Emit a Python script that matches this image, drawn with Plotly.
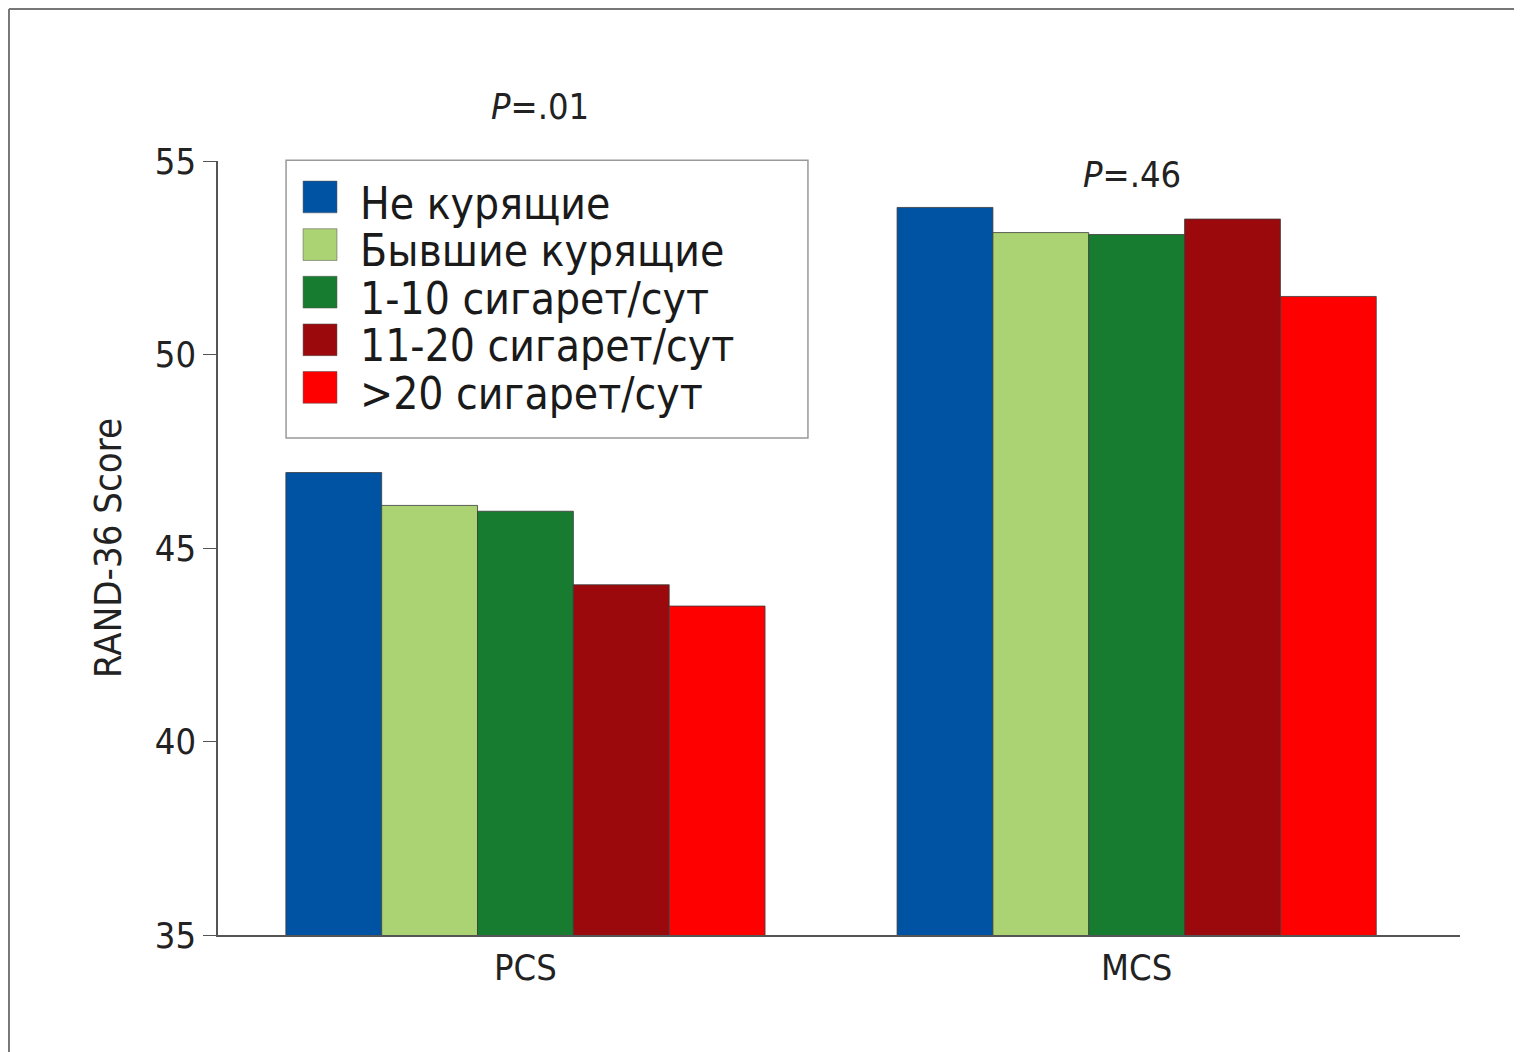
import plotly.graph_objects as go

categories = ["PCS", "MCS"]
groups = ["Не курящие", "Бывшие курящие", "1-10 сигарет/сут", "11-20 сигарет/сут", ">20 сигарет/сут"]
colors = ["#0052a3", "#acd373", "#187c30", "#9b090c", "#ff0000"]
scores = [
    [46.95, 53.8],
    [46.1, 53.15],
    [45.95, 53.1],
    [44.05, 53.5],
    [43.5, 51.5],
]
p_labels = ["<i>P</i>=.01", "<i>P</i>=.46"]
p_y = [1.0698, 0.982]
y_ticks = [35, 40, 45, 50, 55]

FONT = "Liberation Sans Narrow, DejaVu Sans Condensed, Roboto Condensed, Liberation Sans, sans-serif"

fig = go.Figure()
for name, color, vals in zip(groups, colors, scores):
    fig.add_trace(go.Bar(
        x=categories, y=vals, name=name,
        marker=dict(color=color, line=dict(color="rgba(60,60,60,0.8)", width=1)),
        showlegend=False,
    ))

# p-value labels above each group
for cat, txt, yy in zip(categories, p_labels, p_y):
    fig.add_annotation(
        x=cat, y=yy, xref="x", yref="paper", text=txt, showarrow=False,
        yanchor="middle", xshift=15 if cat == "PCS" else -5,
        font=dict(family=FONT, size=36, color="#222"),
    )

# legend drawn by hand so the swatches are as large as in the original
fig.add_shape(type="rect", xref="paper", yref="paper",
              x0=0.0548, x1=0.475, y0=0.642, y1=1.001,
              line=dict(color="#999", width=1.5), fillcolor="white", layer="above")
for i, (name, color) in enumerate(zip(groups, colors)):
    yc = 0.9535 - i * 0.0615
    fig.add_shape(type="rect", xref="paper", yref="paper",
                  x0=0.0685, x1=0.0958, y0=yc - 0.0205, y1=yc + 0.0205,
                  line=dict(color="rgba(80,80,80,0.5)", width=1), fillcolor=color, layer="above")
    fig.add_annotation(x=0.113, y=yc - 0.008, xref="paper", yref="paper", text=name,
                       showarrow=False, xanchor="left", yanchor="middle",
                       font=dict(family=FONT, size=44, color="#1a1a1a"))

# outer frame (top and left edges)
fig.add_shape(type="line", xref="paper", yref="paper", x0=-0.1683, x1=1.07, y0=1.1964, y1=1.1964,
              line=dict(color="#777", width=2))
fig.add_shape(type="line", xref="paper", yref="paper", x0=-0.1683, x1=-0.1683, y0=1.1964, y1=-0.16,
              line=dict(color="#777", width=2))

fig.update_layout(
    width=1514, height=1044,
    margin=dict(l=210, r=62, t=153, b=117),
    paper_bgcolor="white", plot_bgcolor="white",
    barmode="group", bargap=0.216, bargroupgap=0,
    font=dict(family=FONT, color="#222"),
)
fig.update_xaxes(
    range=[-0.503, 1.529], showline=True, linecolor="#555", linewidth=1.5,
    ticks="", tickfont=dict(size=36), showgrid=False,
)
fig.update_yaxes(
    range=[35, 55], tickvals=y_ticks, showline=True, linecolor="#555", linewidth=1.5,
    ticks="outside", ticklen=13, tickcolor="#555", tickfont=dict(size=36),
    showgrid=False, zeroline=False,
    title=dict(text="RAND-36 Score", font=dict(size=38), standoff=22),
)

fig.write_html("out.html")
